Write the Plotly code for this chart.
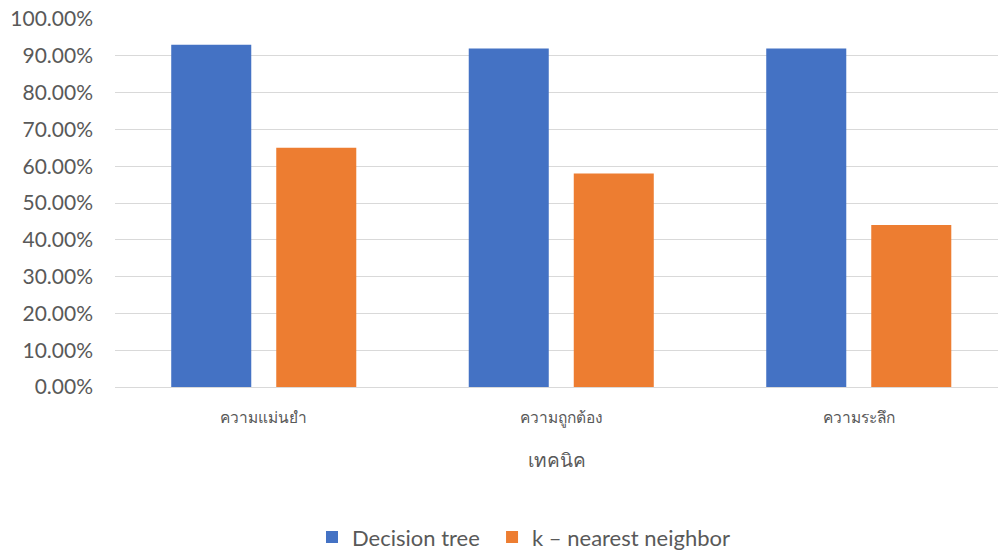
import plotly.graph_objects as go

categories = ["ความแม่นยำ", "ความถูกต้อง", "ความระลึก"]
decision_tree = [0.93, 0.92, 0.92]
knn = [0.65, 0.58, 0.44]
series_names = ["Decision tree", "k – nearest neighbor"]
y_ticks = [i / 10 for i in range(11)]

fig = go.Figure()
fig.add_trace(go.Bar(x=categories, y=decision_tree, name=series_names[0],
                     marker=dict(color="#4472C4", line=dict(width=0)),
                     legend="legend"))
fig.add_trace(go.Bar(x=categories, y=knn, name=series_names[1],
                     marker=dict(color="#ED7D31", line=dict(width=0)),
                     legend="legend2"))

legend_common = dict(orientation="h", xanchor="left", y=-0.408,
                     yanchor="middle", font=dict(size=22, color="#595959"),
                     itemwidth=30, bgcolor="rgba(0,0,0,0)")

fig.update_layout(
    width=998, height=552,
    margin=dict(l=115, r=0, t=19, b=165, autoexpand=False),
    paper_bgcolor="white", plot_bgcolor="white",
    barmode="group", bargap=0.294, bargroupgap=0.238,
    font=dict(family="Lato, Noto Sans, sans-serif", color="#595959"),
    xaxis=dict(range=[-0.5, 2.468], showgrid=False, showline=True,
               linecolor="#d9d9d9", linewidth=1, ticks="",
               tickfont=dict(size=15.5, color="#595959"), ticklabelstandoff=16),
    yaxis=dict(range=[0, 1], tickvals=y_ticks, tickformat=".2%",
               showgrid=True, gridcolor="#d9d9d9", gridwidth=1,
               zeroline=False, showline=False, ticks="",
               tickfont=dict(size=21, color="#595959"), ticklabelstandoff=21),
    legend=dict(x=0.2231, **legend_common),
    legend2=dict(x=0.427, **legend_common),
    showlegend=True,
    annotations=[dict(text="เทคนิค", xref="paper", yref="paper", x=0.5,
                      y=-0.198, xanchor="center", yanchor="middle",
                      showarrow=False, font=dict(size=19, color="#595959"))],
)

fig.write_html("out.html")
